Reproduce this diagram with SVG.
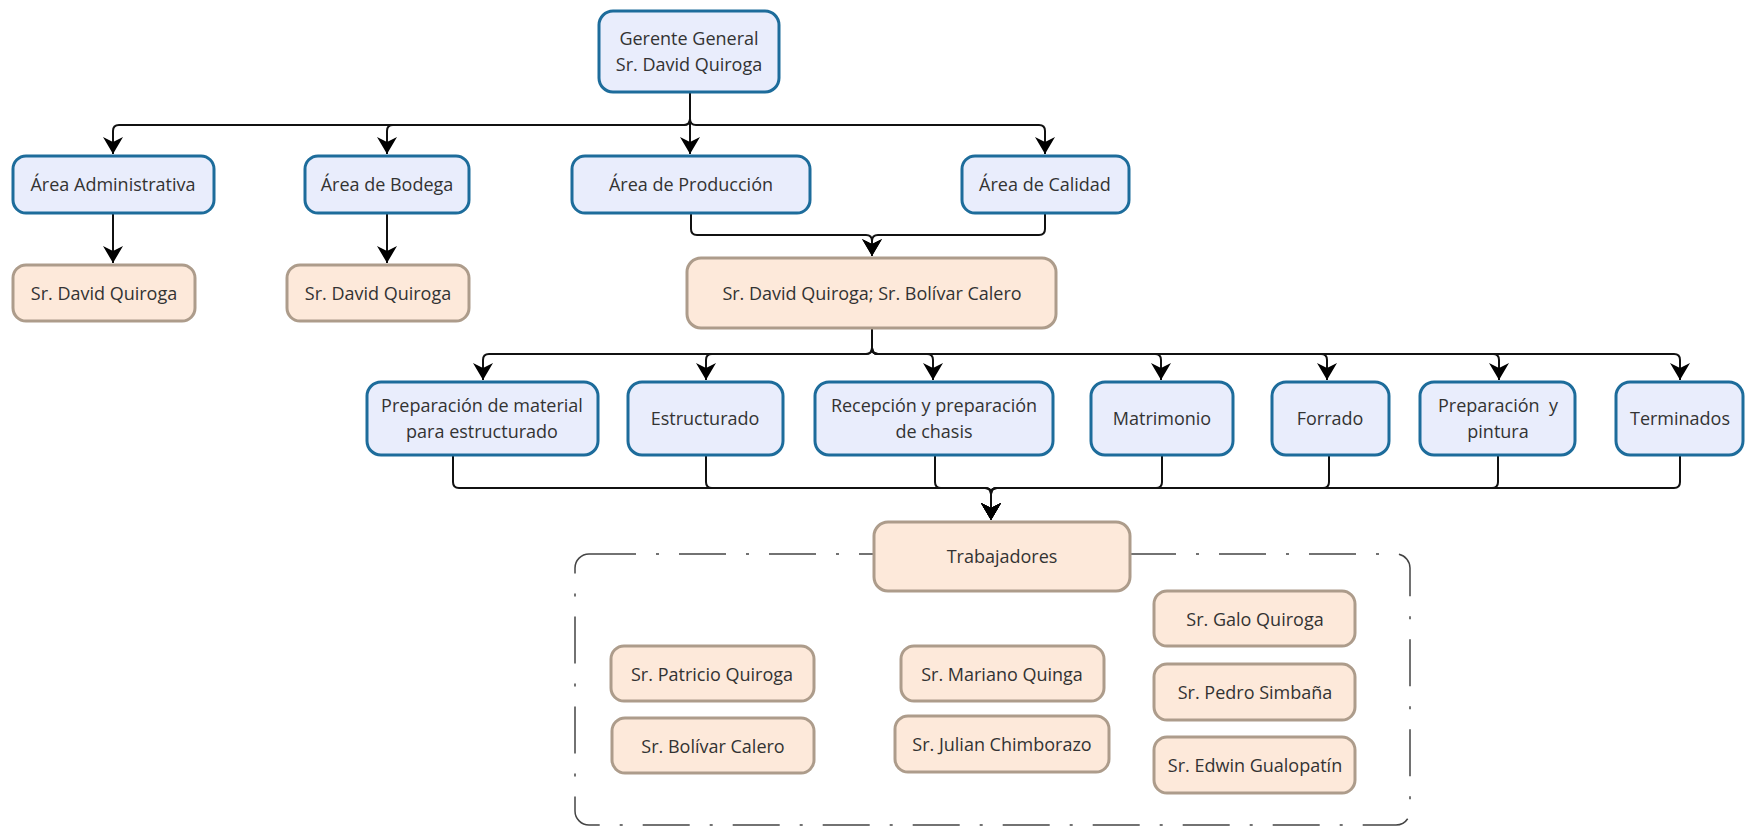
<svg xmlns="http://www.w3.org/2000/svg" width="1746" height="828" viewBox="0 0 1746 828">
<style>
.b{fill:#E9EDFC;stroke:#1D6C9B;stroke-width:3}
.t{fill:#FDE9DA;stroke:#AD9C8B;stroke-width:3}
text{font-family:"Open Sans","Noto Sans",sans-serif;font-size:18px;fill:#333;text-anchor:middle;dominant-baseline:central}
.c{fill:none;stroke:#111;stroke-width:2}
</style>
<defs>
<marker id="ah" markerUnits="userSpaceOnUse" markerWidth="22" markerHeight="22" refX="0" refY="0" viewBox="-18 -11 19 22" orient="auto">
<path d="M0,0 L-17,-10 L-12,0 L-17,10 Z" fill="#000"/>
</marker>
</defs>
<rect x="575" y="554" width="835" height="271" rx="14" fill="none" stroke="#444" stroke-width="1.5" stroke-dasharray="47 20 3 20"/>
<g id="connectors">
<path class="c" marker-end="url(#ah)" d="M690,92 V154"/>
<path class="c" marker-end="url(#ah)" d="M690,92 V119 Q690,125 684,125 H119 Q113,125 113,131 V154"/>
<path class="c" marker-end="url(#ah)" d="M690,92 V119 Q690,125 684,125 H393 Q387,125 387,131 V154"/>
<path class="c" marker-end="url(#ah)" d="M690,92 V119 Q690,125 696,125 H1039 Q1045,125 1045,131 V154"/>
<path class="c" marker-end="url(#ah)" d="M113,213 V263"/>
<path class="c" marker-end="url(#ah)" d="M387,213 V263"/>
<path class="c" marker-end="url(#ah)" d="M691,213 V229 Q691,235 697,235 H866 Q872,235 872,241 V256"/>
<path class="c" marker-end="url(#ah)" d="M1045,213 V229 Q1045,235 1039,235 H878 Q872,235 872,241 V256"/>
<path class="c" marker-end="url(#ah)" d="M872,329 V348 Q872,354 866,354 H489 Q483,354 483,360 V380"/>
<path class="c" marker-end="url(#ah)" d="M872,329 V348 Q872,354 866,354 H712 Q706,354 706,360 V380"/>
<path class="c" marker-end="url(#ah)" d="M872,329 V348 Q872,354 878,354 H927 Q933,354 933,360 V380"/>
<path class="c" marker-end="url(#ah)" d="M872,329 V348 Q872,354 878,354 H1155 Q1161,354 1161,360 V380"/>
<path class="c" marker-end="url(#ah)" d="M872,329 V348 Q872,354 878,354 H1321 Q1327,354 1327,360 V380"/>
<path class="c" marker-end="url(#ah)" d="M872,329 V348 Q872,354 878,354 H1493 Q1499,354 1499,360 V380"/>
<path class="c" marker-end="url(#ah)" d="M872,329 V348 Q872,354 878,354 H1674 Q1680,354 1680,360 V380"/>
<path class="c" marker-end="url(#ah)" d="M453,456 V482 Q453,488 459,488 H985 Q991,488 991,494 V520"/>
<path class="c" marker-end="url(#ah)" d="M706,456 V482 Q706,488 712,488 H985 Q991,488 991,494 V520"/>
<path class="c" marker-end="url(#ah)" d="M935,456 V482 Q935,488 941,488 H985 Q991,488 991,494 V520"/>
<path class="c" marker-end="url(#ah)" d="M1162,456 V482 Q1162,488 1156,488 H997 Q991,488 991,494 V520"/>
<path class="c" marker-end="url(#ah)" d="M1329,456 V482 Q1329,488 1323,488 H997 Q991,488 991,494 V520"/>
<path class="c" marker-end="url(#ah)" d="M1498,456 V482 Q1498,488 1492,488 H997 Q991,488 991,494 V520"/>
<path class="c" marker-end="url(#ah)" d="M1680,456 V482 Q1680,488 1674,488 H997 Q991,488 991,494 V520"/>
</g>
<g id="gerente"><rect class="b" x="599" y="11" width="180" height="81" rx="14"/><text x="689" y="38">Gerente General</text><text x="689" y="64">Sr. David Quiroga</text></g>
<g id="adm"><rect class="b" x="13" y="156" width="201" height="57" rx="13"/><text x="113" y="184">Área Administrativa</text></g>
<g id="bodega"><rect class="b" x="305" y="156" width="164" height="57" rx="13"/><text x="387" y="184">Área de Bodega</text></g>
<g id="produccion"><rect class="b" x="572" y="156" width="238" height="57" rx="13"/><text x="691" y="184">Área de Producción</text></g>
<g id="calidad"><rect class="b" x="962" y="156" width="167" height="57" rx="13"/><text x="1045" y="184">Área de Calidad</text></g>
<g id="dq1"><rect class="t" x="13" y="265" width="182" height="56" rx="13"/><text x="104" y="293">Sr. David Quiroga</text></g>
<g id="dq2"><rect class="t" x="287" y="265" width="182" height="56" rx="13"/><text x="378" y="293">Sr. David Quiroga</text></g>
<g id="dqbc"><rect class="t" x="687" y="258" width="369" height="70" rx="14"/><text x="872" y="293">Sr. David Quiroga; Sr. Bolívar Calero</text></g>
<g id="prepmat"><rect class="b" x="367" y="382" width="231" height="73" rx="14"/><text x="482" y="405">Preparación de material</text><text x="482" y="431">para estructurado</text></g>
<g id="estructurado"><rect class="b" x="628" y="382" width="155" height="73" rx="14"/><text x="705" y="418">Estructurado</text></g>
<g id="recepcion"><rect class="b" x="815" y="382" width="238" height="73" rx="14"/><text x="934" y="405">Recepción y preparación</text><text x="934" y="431">de chasis</text></g>
<g id="matrimonio"><rect class="b" x="1091" y="382" width="142" height="73" rx="14"/><text x="1162" y="418">Matrimonio</text></g>
<g id="forrado"><rect class="b" x="1272" y="382" width="117" height="73" rx="14"/><text x="1330" y="418">Forrado</text></g>
<g id="preppintura"><rect class="b" x="1420" y="382" width="155" height="73" rx="14"/><text x="1498" y="405" xml:space="preserve">Preparación  y</text><text x="1498" y="431">pintura</text></g>
<g id="terminados"><rect class="b" x="1616" y="382" width="127" height="73" rx="14"/><text x="1680" y="418">Terminados</text></g>
<g id="trabajadores"><rect class="t" x="874" y="522" width="256" height="69" rx="14"/><text x="1002" y="556">Trabajadores</text></g>
<g id="patricio"><rect class="t" x="611" y="646" width="203" height="55" rx="13"/><text x="712" y="674">Sr. Patricio Quiroga</text></g>
<g id="bolivar"><rect class="t" x="612" y="718" width="202" height="55" rx="13"/><text x="713" y="746">Sr. Bolívar Calero</text></g>
<g id="mariano"><rect class="t" x="901" y="646" width="203" height="55" rx="13"/><text x="1002" y="674">Sr. Mariano Quinga</text></g>
<g id="julian"><rect class="t" x="895" y="716" width="214" height="56" rx="13"/><text x="1002" y="744">Sr. Julian Chimborazo</text></g>
<g id="galo"><rect class="t" x="1154" y="591" width="201" height="55" rx="13"/><text x="1255" y="619">Sr. Galo Quiroga</text></g>
<g id="pedro"><rect class="t" x="1154" y="664" width="201" height="56" rx="13"/><text x="1255" y="692">Sr. Pedro Simbaña</text></g>
<g id="edwin"><rect class="t" x="1154" y="737" width="201" height="56" rx="13"/><text x="1255" y="765">Sr. Edwin Gualopatín</text></g>
</svg>
